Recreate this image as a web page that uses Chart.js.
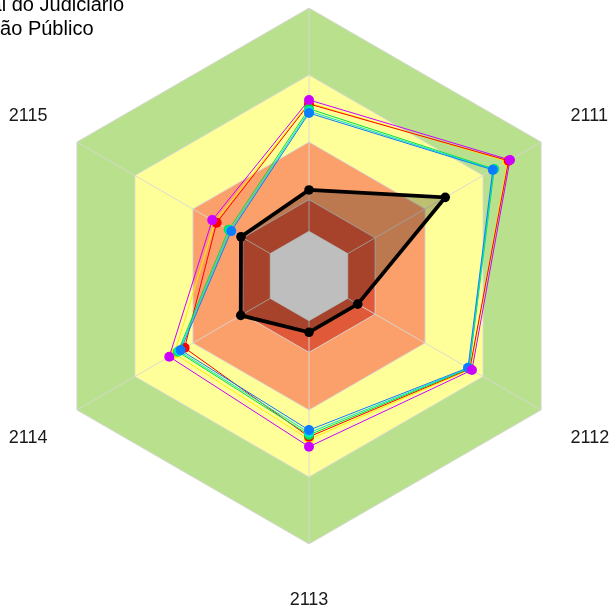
<!DOCTYPE html>
<html>
<head>
<meta charset="utf-8">
<script src="https://cdn.jsdelivr.net/npm/chart.js@4.4.0/dist/chart.umd.min.js"></script>
<style>
html, body { margin: 0; padding: 0; background: #fff; overflow: hidden; }
#radar { display: block; }
</style>
</head>
<body>
<canvas id="radar" width="609" height="610"></canvas>
<script>
// axes, clockwise from the top
const axisLabels = ['2110', '2111', '2112', '2113', '2114', '2115'];

// series values (0-100)
const judiciario = [32.1, 58.7, 21.0, 21.0, 29.4, 29.3];
const serieMagenta = [65.7, 86.6, 70.2, 63.7, 60.2, 41.7];
const serieBlue = [60.8, 79.2, 68.5, 57.5, 55.3, 33.5];
const serieCyan = [61.5, 79.5, 68.8, 58.5, 56.0, 34.0];
const serieGreen = [62.4, 79.8, 69.0, 59.3, 56.5, 34.6];
const serieRed = [64.2, 86.0, 69.3, 60.0, 53.6, 39.8];
const serieYellow = [64.6, 85.5, 69.6, 61.0, 58.0, 40.5];

// background bands (outer to inner)
const bandLimits = [100, 75, 50, 28.5, 16.7];
const bandColors = ['#b9e08c', '#ffff99', '#fba06a', '#e05a3a'];
const centerColor = '#bebebe';
const gridValues = [0, 16.7, 28.5, 50, 75, 100];

const titleLines = ['Tribunal do Judiciário', 'Órgão Público'];

function hexPath(ctx, scale, value) {
  const d = scale.getDistanceFromCenterForValue(value);
  ctx.beginPath();
  for (let i = 0; i < axisLabels.length; i++) {
    const p = scale.getPointPosition(i, d);
    if (i === 0) ctx.moveTo(p.x, p.y); else ctx.lineTo(p.x, p.y);
  }
  ctx.closePath();
}

const bandsPlugin = {
  id: 'bands',
  beforeDraw(chart) {
    const ctx = chart.ctx, r = chart.scales.r;
    ctx.save();
    bandColors.forEach((c, i) => {
      hexPath(ctx, r, bandLimits[i]);
      ctx.fillStyle = c;
      ctx.fill();
    });
    ctx.restore();
  },
  afterDatasetsDraw(chart) {
    const ctx = chart.ctx;
    ctx.save();
    hexPath(ctx, chart.scales.r, bandLimits[4]);
    ctx.fillStyle = centerColor;
    ctx.fill();
    ctx.restore();
  }
};

// axis names, placed outside the outer hexagon
const axisNamePlugin = {
  id: 'axisNames',
  afterDraw(chart) {
    const ctx = chart.ctx, r = chart.scales.r;
    ctx.save();
    ctx.font = '18px "Liberation Sans", Arial, sans-serif';
    ctx.fillStyle = '#1a1a1a';
    ctx.textBaseline = 'middle';
    axisLabels.forEach((txt, i) => {
      const p = r.getPointPosition(i, r.drawingArea + 34);
      let y = p.y;
      if (i === 0) { ctx.textAlign = 'center'; y -= 22; }
      else if (i === 3) { ctx.textAlign = 'center'; y += 22; }
      else {
        ctx.textAlign = i < 3 ? 'left' : 'right';
        y += (i === 1 || i === 5) ? -9 : 11;
      }
      ctx.fillText(txt, p.x, y);
    });
    ctx.restore();
  }
};

// title text, cut by the page edge like in the original
const titlePlugin = {
  id: 'cutTitle',
  afterDraw(chart) {
    const ctx = chart.ctx;
    ctx.save();
    ctx.font = '20px "Liberation Sans", Arial, sans-serif';
    ctx.fillStyle = '#000';
    ctx.textAlign = 'right';
    ctx.textBaseline = 'alphabetic';
    ctx.fillText(titleLines[0], 124, 11);
    ctx.fillText(titleLines[1], 93.5, 35);
    ctx.restore();
  }
};

function thin(label, data, color) {
  return {
    label: label,
    data: data,
    borderColor: color,
    backgroundColor: color,
    borderWidth: 1,
    fill: false,
    pointRadius: 5,
    pointBorderWidth: 0,
    pointBackgroundColor: color
  };
}

new Chart(document.getElementById('radar'), {
  type: 'radar',
  data: {
    labels: axisLabels,
    datasets: [
      {
        label: 'Judiciário',
        data: judiciario,
        borderColor: '#000',
        backgroundColor: 'rgba(0,0,0,0.25)',
        borderWidth: 3.8,
        fill: true,
        pointRadius: 4.8,
        pointBorderWidth: 0,
        pointBackgroundColor: '#000'
      },
      thin('A', serieMagenta, '#cc00ff'),
      thin('B', serieBlue, '#0a7cff'),
      thin('C', serieCyan, '#00e5d0'),
      thin('D', serieGreen, '#00e040'),
      thin('E', serieRed, '#ff0000'),
      thin('F', serieYellow, '#ffee00')
    ]
  },
  options: {
    responsive: false,
    animation: false,
    layout: { padding: { left: 41, top: 8, right: 32, bottom: 66 } },
    elements: { line: { tension: 0 } },
    plugins: {
      legend: { display: false },
      tooltip: { enabled: false },
      title: { display: false }
    },
    scales: {
      r: {
        min: 0,
        max: 100,
        afterBuildTicks: s => { s.ticks = gridValues.map(v => ({ value: v })); },
        ticks: { display: false },
        grid: { color: 'rgba(215,215,215,0.9)', lineWidth: 1 },
        angleLines: { color: 'rgba(215,215,215,0.9)', lineWidth: 1 },
        pointLabels: { display: false }
      }
    }
  },
  plugins: [bandsPlugin, axisNamePlugin, titlePlugin]
});
</script>
</body>
</html>
